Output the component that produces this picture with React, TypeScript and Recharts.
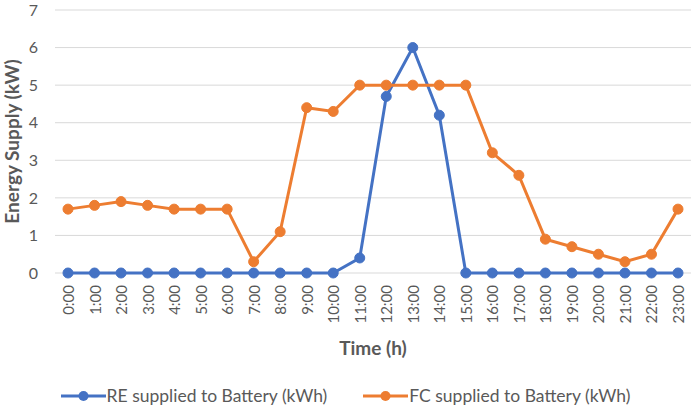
import React from 'react';
import { LineChart, Line, XAxis, YAxis, CartesianGrid, Legend } from 'recharts';

const hours = ['0:00','1:00','2:00','3:00','4:00','5:00','6:00','7:00','8:00','9:00','10:00','11:00','12:00','13:00','14:00','15:00','16:00','17:00','18:00','19:00','20:00','21:00','22:00','23:00'];
const reSupplied = [0,0,0,0,0,0,0,0,0,0,0,0.4,4.7,6,4.2,0,0,0,0,0,0,0,0,0];
const fcSupplied = [1.7,1.8,1.9,1.8,1.7,1.7,1.7,0.3,1.1,4.4,4.3,5,5,5,5,5,3.2,2.6,0.9,0.7,0.5,0.3,0.5,1.7];
const yTicks = [0,1,2,3,4,5,6,7];
const seriesOrder = ['RE supplied to Battery (kWh)', 'FC supplied to Battery (kWh)'];

const data = hours.map((h, i) => ({ time: h, re: reSupplied[i], fc: fcSupplied[i] }));

const FONT = 'Lato, "Open Sans", sans-serif';
const TEXT = '#595959';

const XTick = (props: any) => {
  const { x, y, payload } = props;
  return (
    <text
      transform={`translate(${x},${y}) rotate(-90)`}
      textAnchor="end"
      dominantBaseline="central"
      fill={TEXT}
      fontSize={15}
      fontFamily={FONT}
    >
      {payload.value}
    </text>
  );
};

const YLabel = (props: any) => {
  const vb = props.viewBox || {};
  const cx = 11;
  const cy = (vb.y || 0) + (vb.height || 0) / 2;
  return (
    <text
      transform={`translate(${cx},${cy}) rotate(-90)`}
      textAnchor="middle"
      dominantBaseline="central"
      fill={TEXT}
      fontSize={19}
      fontWeight="bold"
      fontFamily={FONT}
    >
      Energy Supply (kW)
    </text>
  );
};

const XLabel = (props: any) => {
  const vb = props.viewBox || {};
  const cx = (vb.x || 0) + (vb.width || 0) / 2;
  const cy = (vb.y || 0) + 74;
  return (
    <text x={cx} y={cy} textAnchor="middle" dominantBaseline="central" fill={TEXT} fontSize={19} fontWeight="bold" fontFamily={FONT}>
      Time (h)
    </text>
  );
};

const LegendContent = (props: any) => {
  const payload = [...(props.payload || [])].sort(
    (a: any, b: any) => seriesOrder.indexOf(a.value) - seriesOrder.indexOf(b.value)
  );
  return (
    <div style={{ display: 'flex', justifyContent: 'center', gap: 36, fontFamily: FONT, fontSize: 17.5, color: TEXT, lineHeight: '24px' }}>
      {payload.map((p: any) => (
        <div key={p.value} style={{ display: 'flex', alignItems: 'center' }}>
          <svg width={45} height={14} style={{ marginRight: 1 }}>
            <line x1={0} y1={7} x2={45} y2={7} stroke={p.color} strokeWidth={3} />
            <circle cx={22.5} cy={7} r={5} fill={p.color} />
          </svg>
          <span>{p.value}</span>
        </div>
      ))}
    </div>
  );
};

export default function App() {
  return (
    <div style={{ position: 'absolute', left: 0, top: 0, width: 692, height: 412, background: '#fff' }}>
      <LineChart width={692} height={412} data={data} margin={{ top: 10, right: 1, bottom: 4, left: 0 }}>
        <CartesianGrid horizontal vertical={false} stroke="#d9d9d9" strokeWidth={1} />
        <XAxis
          dataKey="time"
          axisLine={false}
          tickLine={false}
          interval={0}
          height={111}
          padding={{ left: 13, right: 13 }}
          tick={<XTick />}
          tickSize={0}
          tickMargin={12}
          label={<XLabel />}
        />
        <YAxis
          domain={[0, 7]}
          ticks={yTicks}
          axisLine={false}
          tickLine={false}
          tickSize={0}
          tickMargin={17}
          width={55}
          tick={{ fill: TEXT, fontSize: 16, fontFamily: FONT }}
          label={<YLabel />}
        />
        <Legend verticalAlign="bottom" height={24} content={<LegendContent />} />
        <Line
          type="linear"
          dataKey="re"
          name="RE supplied to Battery (kWh)"
          stroke="#4472C4"
          strokeWidth={3}
          dot={{ r: 5, fill: '#4472C4', stroke: '#4472C4', strokeWidth: 1 }}
          isAnimationActive={false}
        />
        <Line
          type="linear"
          dataKey="fc"
          name="FC supplied to Battery (kWh)"
          stroke="#ED7D31"
          strokeWidth={3}
          dot={{ r: 5, fill: '#ED7D31', stroke: '#ED7D31', strokeWidth: 1 }}
          isAnimationActive={false}
        />
      </LineChart>
    </div>
  );
}
